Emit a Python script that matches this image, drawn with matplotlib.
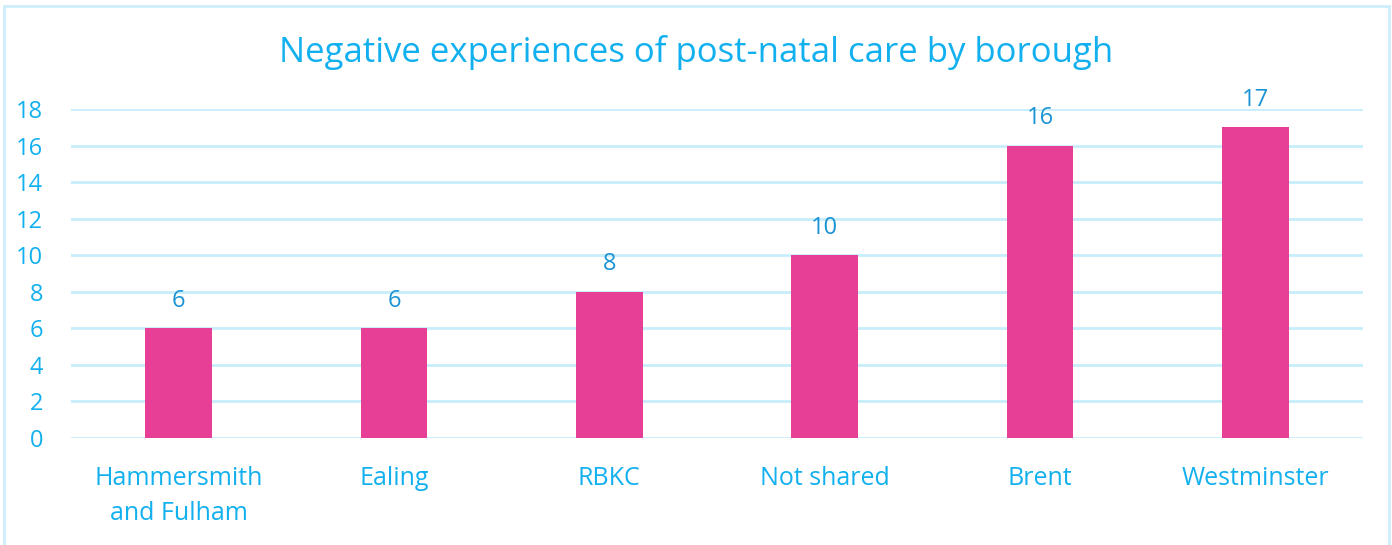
import matplotlib.pyplot as plt
from matplotlib.patches import Rectangle

boroughs = ['Hammersmith\nand Fulham', 'Ealing', 'RBKC', 'Not shared', 'Brent', 'Westminster']
negative_counts = [6, 6, 8, 10, 16, 17]
y_ticks = [0, 2, 4, 6, 8, 10, 12, 14, 16, 18]

text_blue = '#12b0ef'
label_blue = '#1a93d4'
grid_blue = '#c8edfb'
bar_pink = '#e63f95'

plt.rcParams['font.family'] = ['Open Sans', 'DejaVu Sans']

fig = plt.figure(figsize=(13.92, 5.45), dpi=100)
ax = fig.add_axes([71 / 1392, 107 / 545, 1292 / 1392, 329 / 545])

x = range(len(boroughs))
ax.bar(x, negative_counts, width=0.31, color=bar_pink, zorder=3)

# value labels above each bar
for xi, v in zip(x, negative_counts):
    ax.text(xi, v + 0.85, str(v), ha='center', va='bottom', fontsize=17, color=label_blue)

ax.set_xlim(-0.5, len(boroughs) - 0.5)
ax.set_ylim(0, 18)
ax.set_yticks(y_ticks)
ax.set_xticks(list(x))
ax.set_xticklabels(boroughs, fontsize=18, color=text_blue, linespacing=1.55)
ax.tick_params(axis='y', labelsize=17, labelcolor=text_blue, length=0, pad=20)
ax.tick_params(axis='x', length=0, pad=20)
for lbl in ax.get_yticklabels():
    lbl.set_horizontalalignment('right')

ax.grid(axis='y', color=grid_blue, linewidth=2, zorder=0)
ax.set_axisbelow(True)
for s in ax.spines.values():
    s.set_visible(False)

fig.text(0.5, 1 - 53 / 545, 'Negative experiences of post-natal care by borough',
         ha='center', va='center', fontsize=25, color=text_blue)

# light outline around the chart area
fig.patches.append(Rectangle((4 / 1392, -0.01), 1385 / 1392, 1 - 6 / 545 + 0.01,
                             transform=fig.transFigure, fill=False,
                             edgecolor='#cdeefb', linewidth=2))

fig.savefig('out.png', dpi=100)
